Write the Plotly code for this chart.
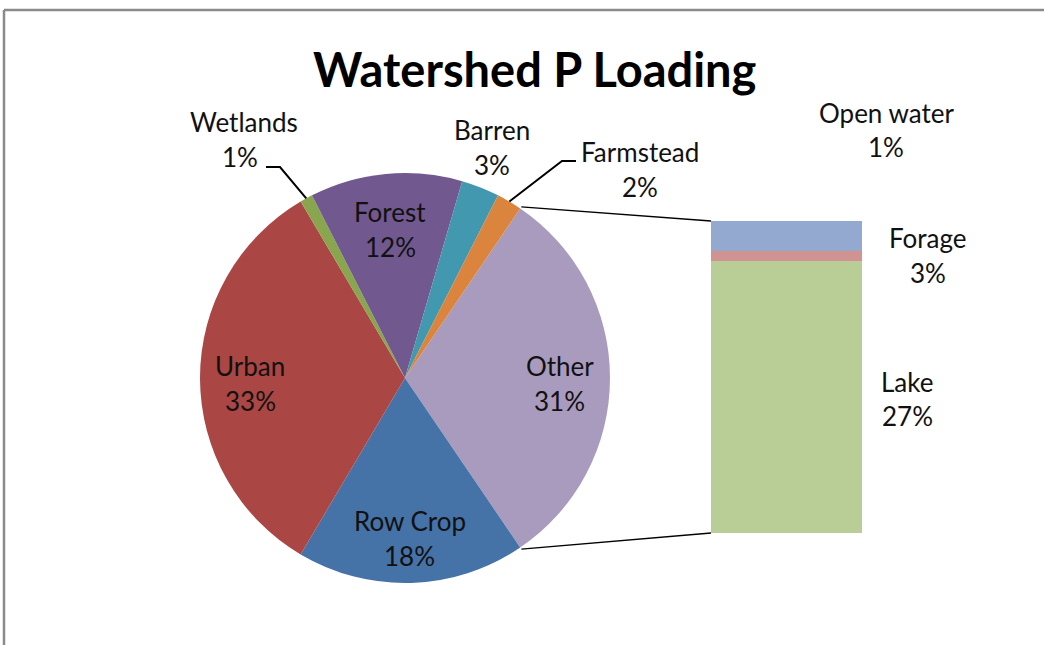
import math
import plotly.graph_objects as go

# ---------------- data ----------------
pie_labels = ["Row Crop", "Urban", "Wetlands", "Forest", "Barren", "Farmstead"]
pie_values = [18, 33, 1, 12, 3, 2]
pie_colors = ["#4572A7", "#AA4643", "#89A54E", "#71588F", "#4198AF", "#DB843D"]

bar_labels = ["Lake", "Open water", "Forage"]      # bottom -> top
bar_values = [27, 1, 3]
bar_colors = ["#B9CD96", "#D19392", "#93A9CF"]

other_label = "Other"
other_color = "#A99BBD"
title_text = "Watershed P Loading"

# ---------------- layout helpers ----------------
W, H = 1044, 645
FONT = "Lato"
FS = 26
CX, CY, R = 405, 378, 205          # pie centre / radius in px
BX0, BX1, BY0, BY1 = 711, 862, 221, 533   # bar box in px


def px(x):
    return x / W


def py(y):
    return 1 - y / H


other_value = sum(bar_values)
all_labels = [other_label] + pie_labels
all_values = [other_value] + pie_values
all_colors = [other_color] + pie_colors
total = sum(all_values)
rotation = 90 - other_value / total * 360 / 2

# slice angles (clockwise from 12 o'clock)
angles = []
a = rotation
for v in all_values:
    span = v / total * 360
    angles.append((a, a + span))
    a += span


def pt(angle_deg, rad):
    t = math.radians(angle_deg)
    return CX + rad * math.sin(t), CY - rad * math.cos(t)


fig = go.Figure()

fig.add_trace(go.Pie(
    labels=all_labels, values=all_values, sort=False, direction="clockwise",
    rotation=rotation, marker=dict(colors=all_colors, line=dict(width=0)),
    textinfo="none", hoverinfo="label+percent", showlegend=False,
    domain=dict(x=[px(CX - R), px(CX + R)], y=[py(CY + R), py(CY - R)]),
))

for lab, val, col in zip(bar_labels, bar_values, bar_colors):
    fig.add_trace(go.Bar(
        x=[0], y=[val], name=lab, width=1, marker=dict(color=col, line=dict(width=0)),
        showlegend=False, xaxis="x", yaxis="y",
    ))

annotations = []
shapes = []


def text_at(t, x, y):
    annotations.append(dict(text=t, x=px(x), y=py(y), xref="paper", yref="paper",
                            showarrow=False, xanchor="center", yanchor="middle",
                            font=dict(family=FONT, size=FS, color="#111")))


def pct_text(v):
    return f"{round(v / total * 100)}%"


# inside labels
for name, v, (a0, a1) in zip(all_labels, all_values, angles):
    if name in ("Other", "Row Crop", "Urban", "Forest"):
        x, y = pt((a0 + a1) / 2, R * 0.755)
        text_at(name, x, y - 12)
        text_at(pct_text(v), x, y + 23)

# outside labels with leader lines
outside_pos = {
    "Wetlands": ((244, 122), (240, 157), [(280, 167), (266, 167)]),
    "Barren": ((492, 130), (492, 165), None),
    "Farmstead": ((640, 152), (640, 187), [(562, 161), (576, 161)]),
}
for name, v, (a0, a1) in zip(all_labels, all_values, angles):
    if name in outside_pos:
        (nx, ny), (qx, qy), leader = outside_pos[name]
        text_at(name, nx, ny)
        text_at(pct_text(v), qx, qy)
        if leader:
            sx, sy = pt((a0 + a1) / 2, R)
            path = f"M {px(sx)} {py(sy)}"
            for (lx, ly) in leader:
                path += f" L {px(lx)} {py(ly)}"
            shapes.append(dict(type="path", path=path, xref="paper", yref="paper",
                               line=dict(color="black", width=2)))

# bar labels
bar_label_pos = {"Open water": ((886, 113), (886, 147)),
                 "Forage": ((928, 238), (928, 273)),
                 "Lake": ((907, 382), (907, 416))}
for name, v in zip(bar_labels, bar_values):
    (nx, ny), (qx, qy) = bar_label_pos[name]
    text_at(name, nx, ny)
    text_at(pct_text(v), qx, qy)

# connector lines from "Other" slice to the bar
ta, ba = angles[0]
tx, ty = pt(ta, R + 2)
bx, by = pt(ba, R + 2)
shapes.append(dict(type="line", x0=px(tx), y0=py(ty), x1=px(BX0), y1=py(BY0),
                   xref="paper", yref="paper", line=dict(color="black", width=1.3)))
shapes.append(dict(type="line", x0=px(bx), y0=py(by), x1=px(BX0), y1=py(BY1),
                   xref="paper", yref="paper", line=dict(color="black", width=1.3)))

# chart frame (top and left edges visible)
shapes.append(dict(type="line", x0=px(4), y0=py(10), x1=1, y1=py(10), xref="paper", yref="paper",
                   line=dict(color="#8a8a8a", width=2.5)))
shapes.append(dict(type="line", x0=px(4), y0=py(10), x1=px(4), y1=0, xref="paper", yref="paper",
                   line=dict(color="#8a8a8a", width=2.5)))

annotations.append(dict(text=f"<b>{title_text}</b>", x=px(535), y=py(69), xref="paper", yref="paper",
                        showarrow=False, xanchor="center", yanchor="middle",
                        font=dict(family=FONT, size=47, color="black")))

fig.update_layout(
    width=W, height=H, margin=dict(l=0, r=0, t=0, b=0),
    paper_bgcolor="white", plot_bgcolor="white",
    barmode="stack", bargap=0,
    xaxis=dict(domain=[px(BX0), px(BX1)], range=[-0.5, 0.5], visible=False, fixedrange=True),
    yaxis=dict(domain=[py(BY1), py(BY0)], range=[0, other_value], visible=False, fixedrange=True),
    annotations=annotations, shapes=shapes,
)

fig.write_html("out.html", config={"displayModeBar": False},
               post_script="document.body.style.margin='0px';")
